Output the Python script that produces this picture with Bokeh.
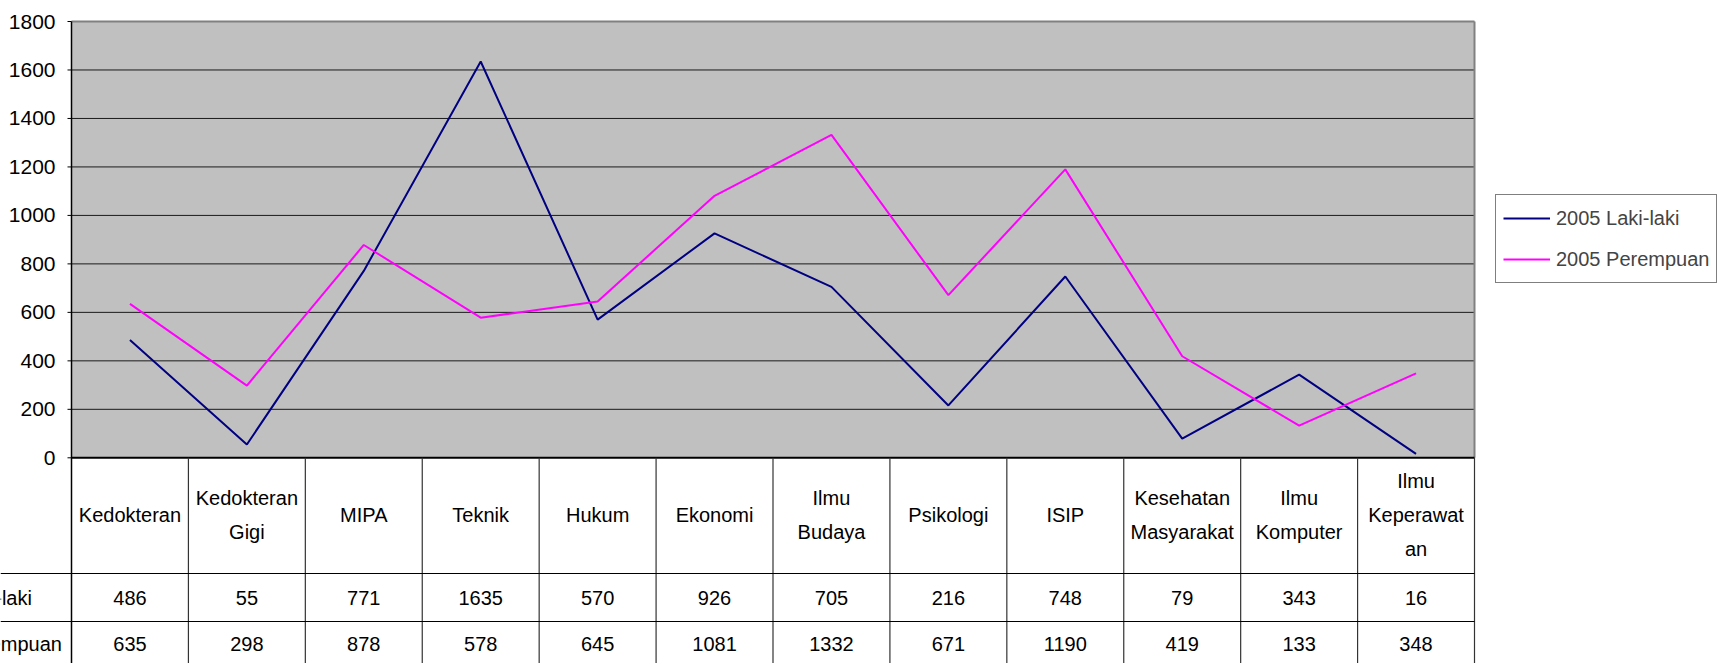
from bokeh.plotting import figure
from bokeh.models import Range1d, Legend, LegendItem
from bokeh.core.properties import value
from bokeh.embed import file_html
from bokeh.resources import INLINE

# ---- data ----
categories = ["Kedokteran", "Kedokteran\nGigi", "MIPA", "Teknik", "Hukum", "Ekonomi",
              "Ilmu\nBudaya", "Psikologi", "ISIP", "Kesehatan\nMasyarakat",
              "Ilmu\nKomputer", "Ilmu\nKeperawat\nan"]
series_names = ["2005 Laki-laki", "2005 Perempuan"]
laki = [486, 55, 771, 1635, 570, 926, 705, 216, 748, 79, 343, 16]
perempuan = [635, 298, 878, 578, 645, 1081, 1332, 671, 1190, 419, 133, 348]
y_ticks = [0, 200, 400, 600, 800, 1000, 1200, 1400, 1600, 1800]
colors = ["#000080", "#FF00FF"]

FONT_NAME = "Liberation Sans"
FONT = value(FONT_NAME)
FS = "20px"

W, H = 1720, 663
n = len(categories)
xs = list(range(n))

# layout (reference pixel positions)
plot_left, plot_right = 71, 1474
plot_top, plot_bottom = 21, 457.3
colw = (plot_right - plot_left) / n
ppu = (plot_bottom - plot_top) / 1800.0

x_start = -0.5 + (0 - plot_left) / colw
x_end = -0.5 + (W - plot_left) / colw
y_end = 1800 + (plot_top - 0) / ppu
y_start = -(H - plot_bottom) / ppu

p = figure(width=W, height=H, output_backend="svg", toolbar_location=None,
           x_range=Range1d(x_start, x_end), y_range=Range1d(y_start, y_end),
           min_border=0, min_border_left=0, min_border_right=0,
           min_border_top=0, min_border_bottom=0)
p.axis.visible = False
p.grid.visible = False
p.outline_line_color = None
p.background_fill_color = "white"
p.border_fill_color = "white"
# table coordinate system in page pixels (top=0, bottom=H)
p.extra_y_ranges = {"tbl": Range1d(H, 0)}

# plot area
p.quad(left=[-0.5], right=[n - 0.5], bottom=[0], top=[1800],
       fill_color="#C0C0C0", line_color=None)
# gridlines
grid = [t for t in y_ticks if 0 < t < 1800]
p.segment(x0=[-0.5] * len(grid), x1=[n - 0.5] * len(grid), y0=grid, y1=grid,
          line_color="#1a1a1a", line_width=1)
# top and right border
p.segment(x0=[-0.5, n - 0.5], x1=[n - 0.5, n - 0.5], y0=[1800, 1800], y1=[1800, 0],
          line_color="#808080", line_width=2)
# y tick marks and labels
tk = 4 / colw
p.segment(x0=[-0.5 - tk] * len(y_ticks), x1=[-0.5] * len(y_ticks), y0=y_ticks, y1=y_ticks,
          line_color="black", line_width=1)
p.text(x=[-0.5] * len(y_ticks), y=y_ticks, text=[str(t) for t in y_ticks],
       x_offset=-16, text_align="right", text_baseline="middle",
       text_font=FONT, text_font_size="21px", text_color="black")

# lines
r1 = p.line(xs, laki, line_color=colors[0], line_width=2)
r2 = p.line(xs, perempuan, line_color=colors[1], line_width=2)

# axis line (x axis at 0) and left border continuing into table
p.segment(x0=[-0.5], x1=[n - 0.5], y0=[0], y1=[0], line_color="black", line_width=2)
p.segment(x0=[-0.5], x1=[-0.5], y0=[plot_top], y1=[H], line_color="black",
          line_width=1.5, y_range_name="tbl")

# data table
header_top, row1_top, row2_top, row2_bot = 457.3, 573, 621, 669
vx = [k - 0.5 for k in range(1, n + 1)]
p.segment(x0=vx, x1=vx, y0=[header_top] * n, y1=[H] * n,
          line_color="#333333", line_width=1.2, y_range_name="tbl")
p.segment(x0=[x_start, x_start], x1=[n - 0.5, n - 0.5], y0=[row1_top, row2_top],
          y1=[row1_top, row2_top], line_color="black", line_width=1.2, y_range_name="tbl")

p.text(x=xs, y=[(header_top + row1_top) / 2 - 1] * n, text=categories,
       text_align="center", text_baseline="middle", text_line_height=1.55,
       text_font=FONT, text_font_size=FS, text_color="black", y_range_name="tbl")
p.text(x=xs, y=[(row1_top + row2_top) / 2] * n, text=[str(v) for v in laki],
       text_align="center", text_baseline="middle",
       text_font=FONT, text_font_size=FS, text_color="black", y_range_name="tbl")
p.text(x=xs, y=[(row2_top + row2_bot) / 2 - 2] * n, text=[str(v) for v in perempuan],
       text_align="center", text_baseline="middle",
       text_font=FONT, text_font_size=FS, text_color="black", y_range_name="tbl")
# row labels (cut off at page edge as in the reference)
p.text(x=[-0.5, -0.5], y=[(row1_top + row2_top) / 2, (row2_top + row2_bot) / 2 - 2],
       text=series_names, x_offset=-163, text_align="left", text_baseline="middle",
       text_font=FONT, text_font_size=FS, text_color="black", y_range_name="tbl")

# legend
legend = Legend(items=[LegendItem(label=series_names[0], renderers=[r1]),
                       LegendItem(label=series_names[1], renderers=[r2])],
                location=(1495, 380), margin=0, padding=7, spacing=9,
                glyph_width=47, glyph_height=32, label_height=32, label_standoff=6,
                label_text_font=FONT_NAME, label_text_font_size=FS,
                border_line_color="black", border_line_width=1,
                background_fill_color="white", background_fill_alpha=1)
p.add_layout(legend)

open("out.html", "w").write(file_html(p, INLINE))
